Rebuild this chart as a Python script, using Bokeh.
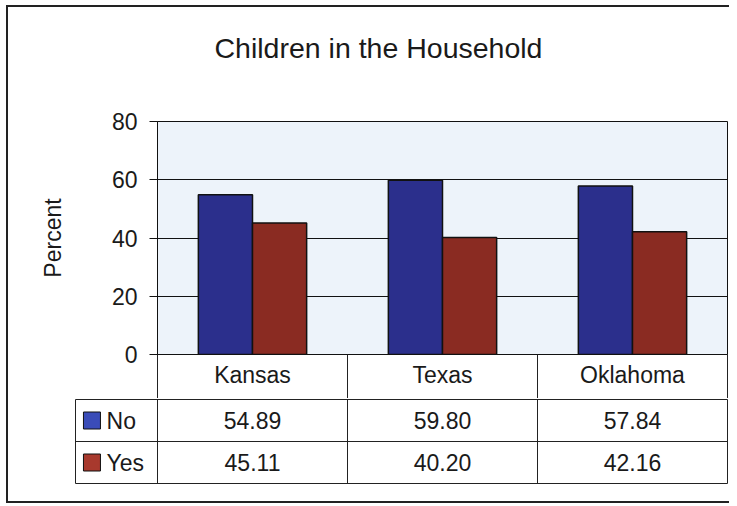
from bokeh.plotting import figure
from bokeh.models import Range1d, FixedTicker, Span, ColumnDataSource, Title
from bokeh.layouts import column
from bokeh.core.properties import value
from bokeh.embed import file_html
from bokeh.resources import INLINE

# ---- data ----
title_text = "Children in the Household"
categories = ["Kansas", "Texas", "Oklahoma"]
series_names = ["No", "Yes"]
no_values = [54.89, 59.80, 57.84]
yes_values = [45.11, 40.20, 42.16]
y_ticks = [0, 20, 40, 60, 80]

FONT = "Liberation Sans"
BAR_COLORS = ["#2b2f8c", "#8a2b22"]
SWATCH_COLORS = ["#3a4cb8", "#a8392d"]
TXT = "#1a1a1a"

n = len(categories)
centers = [i + 0.5 for i in range(n)]
bar_w = 0.285

src_no = ColumnDataSource(dict(x=[c - bar_w / 2 for c in centers], top=no_values))
src_yes = ColumnDataSource(dict(x=[c + bar_w / 2 for c in centers], top=yes_values))

# ---- chart figure ----
p = figure(width=721, height=391, output_backend="svg", toolbar_location=None, title=None,
           x_range=Range1d(0, n), y_range=Range1d(0, 80),
           min_border_left=149, min_border_right=2, min_border_top=114, min_border_bottom=44)
p.frame_align = False
p.background_fill_color = "#edf3fa"
p.border_fill_color = "white"
p.outline_line_color = "#111111"
p.outline_line_width = 1

# invisible spacer panel next to the frame, then the title above it
p.add_layout(Title(text="\u200b", text_font_size="2px", standoff=54), "above")
p.add_layout(Title(text=title_text, align="left", offset=57, standoff=0,
                   text_font=FONT, text_font_size="28.5px", text_font_style="normal",
                   text_color=TXT), "above")

p.vbar(x="x", top="top", width=bar_w, bottom=0, source=src_no,
       fill_color=BAR_COLORS[0], line_color="#111111", line_width=1.5)
p.vbar(x="x", top="top", width=bar_w, bottom=0, source=src_yes,
       fill_color=BAR_COLORS[1], line_color="#111111", line_width=1.5)

# y axis
p.yaxis.ticker = FixedTicker(ticks=y_ticks)
p.yaxis.axis_label = "Percent"
p.yaxis.axis_label_text_font = FONT
p.yaxis.axis_label_text_font_size = "23px"
p.yaxis.axis_label_text_font_style = "normal"
p.yaxis.axis_label_text_color = TXT
p.yaxis.axis_label_standoff = 43
p.yaxis.major_label_text_font = FONT
p.yaxis.major_label_text_font_size = "23px"
p.yaxis.major_label_text_color = TXT
p.yaxis.major_label_standoff = 12
p.yaxis.major_tick_out = 8
p.yaxis.major_tick_in = 0
p.yaxis.minor_tick_line_color = None
p.yaxis.axis_line_color = "#111111"
p.yaxis.major_tick_line_color = "#111111"

# x axis as the table header row
p.xaxis.ticker = FixedTicker(ticks=centers, minor_ticks=list(range(n + 1)))
p.xaxis.major_label_overrides = {c: name for c, name in zip(centers, categories)}
p.xaxis.major_label_text_font = FONT
p.xaxis.major_label_text_font_size = "23px"
p.xaxis.major_label_text_color = TXT
p.xaxis.major_label_standoff = -37
p.xaxis.major_tick_out = 0
p.xaxis.major_tick_in = 0
p.xaxis.minor_tick_out = 44
p.xaxis.minor_tick_in = 0
p.xaxis.minor_tick_line_color = "#222222"
p.xaxis.axis_line_color = "#111111"

p.xgrid.grid_line_color = None
p.ygrid.ticker = FixedTicker(ticks=y_ticks)
p.ygrid.grid_line_color = "#111111"
p.ygrid.grid_line_width = 1

# ---- data table figure ----
legend_w = 0.4316
t = figure(width=721, height=103, output_backend="svg", toolbar_location=None, title=None,
           x_range=Range1d(-legend_w, n), y_range=Range1d(0, 2),
           min_border_left=67, min_border_right=2, min_border_top=1, min_border_bottom=18,
           x_axis_location=None, y_axis_location=None)
t.frame_align = False
t.background_fill_color = "white"
t.border_fill_color = "white"
t.outline_line_color = "#222222"
t.outline_line_width = 1
t.xgrid.grid_line_color = None
t.ygrid.grid_line_color = None

for xb in range(n):
    t.add_layout(Span(location=xb, dimension="height", line_color="#222222", line_width=1))
t.add_layout(Span(location=1, dimension="width", line_color="#222222", line_width=1))

rows_y = [1.5, 0.5]
for vals, ry in zip([no_values, yes_values], rows_y):
    t.text(x=centers, y=[ry] * n, text=[f"{v:.2f}" for v in vals],
           text_font=value(FONT), text_font_size="23px", text_color=TXT,
           text_align="center", text_baseline="middle")

t.scatter(x=[-0.345] * 2, y=rows_y, marker="square", size=17,
          fill_color=SWATCH_COLORS, line_color="#111111", line_width=1)
t.text(x=[-0.268] * 2, y=rows_y, text=series_names,
       text_font=value(FONT), text_font_size="23px", text_color=TXT,
       text_align="left", text_baseline="middle")

layout = column(p, t, spacing=0,
                styles={"margin-left": "6px", "margin-top": "5px",
                        "border-left": "2px solid #222", "border-top": "2px solid #222",
                        "border-bottom": "2px solid #222"})

open("out.html", "w").write(file_html(layout, INLINE))
